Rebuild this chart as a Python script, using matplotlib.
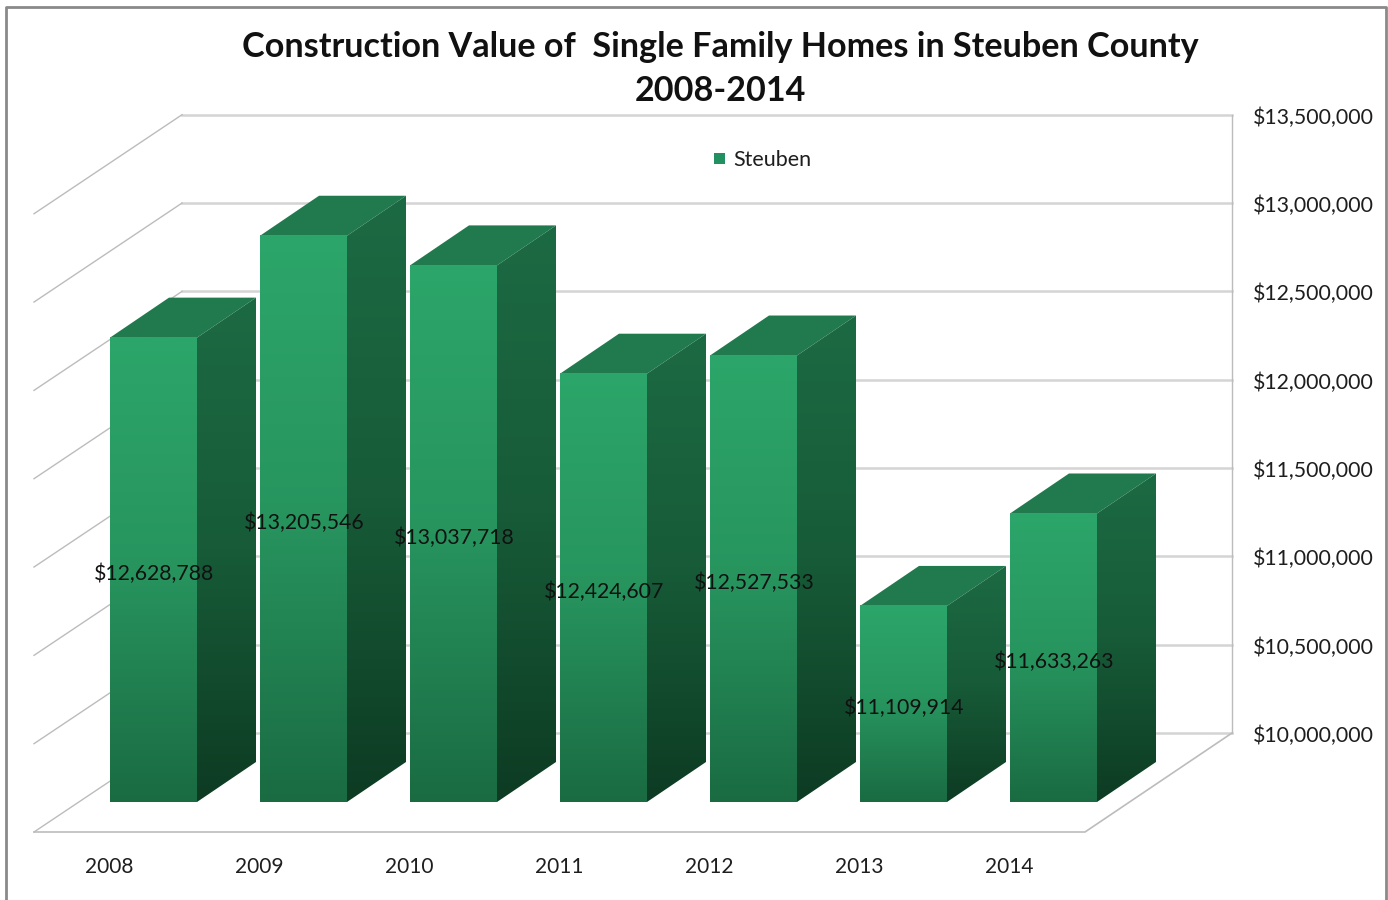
import matplotlib
matplotlib.use("Agg")
import matplotlib.pyplot as plt
import numpy as np
from matplotlib.colors import LinearSegmentedColormap
from matplotlib.patches import Polygon, Rectangle

plt.rcParams["font.family"] = ["Lato", "DejaVu Sans"]

years = ["2008", "2009", "2010", "2011", "2012", "2013", "2014"]
values = [12628788, 13205546, 13037718, 12424607, 12527533, 11109914, 11633263]
value_labels = ["$12,628,788", "$13,205,546", "$13,037,718", "$12,424,607",
                "$12,527,533", "$11,109,914", "$11,633,263"]
axis_ticks = [10000000, 10500000, 11000000, 11500000, 12000000, 12500000, 13000000, 13500000]
title_lines = ["Construction Value of  Single Family Homes in Steuben County", "2008-2014"]

W, H = 1388, 900
# scale of the picture: pixels per category and dollars per pixel
PX_X = 150.0
PX_Y = 5661.0
BASE = 10000000
ORIGIN_X = 153.5
ORIGIN_Y = 802

fig = plt.figure(figsize=(W / 100, H / 100), dpi=100)
ax = fig.add_axes([0, 0, 1, 1])
ax.axis("off")


def dx(px):
    return px / PX_X


def dy(px):
    return px * PX_Y


BAR_W = 0.58
BAR_DX, BAR_DY = dx(59), dy(40)
# floor corners relative to the bar front plane
FRONT_L, FRONT_R = dx(34 - ORIGIN_X), dx(1085 - ORIGIN_X)
BACK_L, BACK_R = dx(182 - ORIGIN_X), dx(1232 - ORIGIN_X)
FRONT_Y = BASE - dy(30)
BACK_Y = BASE + dy(69)

grid_col = "#d4d4d4"
edge_col = "#bcbcbc"
text_col = "#1e1e1e"

for t in axis_ticks:
    y = BACK_Y + (t - BASE)
    ax.plot([BACK_L, BACK_R], [y, y], color=grid_col, lw=1.8, zorder=1)
    ax.plot([FRONT_L, BACK_L], [y - dy(99), y], color=edge_col, lw=1.0, zorder=1)
    ax.text(BACK_R + dx(21), y - dy(3), "${:,}".format(t), ha="left", va="center",
            fontsize=15.3, color=text_col)

ax.plot([BACK_R, BACK_R], [BACK_Y, BACK_Y + axis_ticks[-1] - BASE], color=edge_col, lw=1.0, zorder=1)
ax.plot([FRONT_L, FRONT_R, BACK_R], [FRONT_Y, FRONT_Y, BACK_Y], color=edge_col, lw=1.2, zorder=1)

front_cmap = LinearSegmentedColormap.from_list("front", ["#2ca66a", "#27945e", "#1a6b42"])
side_cmap = LinearSegmentedColormap.from_list("side", ["#1c6a43", "#175b38", "#0d3b23"])

for i, v in enumerate(values):
    l, r = i - BAR_W / 2, i + BAR_W / 2
    top = Polygon([(l, v), (r, v), (r + BAR_DX, v + BAR_DY), (l + BAR_DX, v + BAR_DY)],
                  facecolor="#217a4d", edgecolor="none", zorder=3)
    ax.add_patch(top)

    grad = np.linspace(0, 1, 256).reshape(-1, 1)
    ax.imshow(grad, cmap=front_cmap, extent=(l, r, BASE, v), aspect="auto", origin="upper", zorder=3)

    side = Polygon([(r, BASE), (r + BAR_DX, BASE + BAR_DY), (r + BAR_DX, v + BAR_DY), (r, v)],
                   facecolor="none", edgecolor="none")
    ax.add_patch(side)
    im2 = ax.imshow(grad, cmap=side_cmap, extent=(r, r + BAR_DX, BASE, v + BAR_DY), aspect="auto",
                    origin="upper", zorder=3)
    im2.set_clip_path(side)

for i, v in enumerate(values):
    ax.text(i + dx(1), (BASE + v) / 2 - dy(4), value_labels[i], ha="center", va="center", fontsize=15.3,
            color="#111111", zorder=5)
    ax.text(i + dx(-44.5), BASE - dy(65), years[i], ha="center", va="center", fontsize=15,
            color=text_col, zorder=5)

# imshow resets the limits so they are set here, last
ax.set_xlim(-ORIGIN_X / PX_X, (W - ORIGIN_X) / PX_X)
ax.set_ylim(BASE - (H - ORIGIN_Y) * PX_Y, BASE + ORIGIN_Y * PX_Y)

fig.text(720.5 / W, 1 - 47 / H, title_lines[0], ha="center", va="center", fontsize=24.6, fontweight="bold",
         color="#111111")
fig.text(720.5 / W, 1 - 91 / H, title_lines[1], ha="center", va="center", fontsize=24.6, fontweight="bold",
         color="#111111")

fig.patches.append(Rectangle((714 / W, 1 - 164 / H), 11 / W, 11 / H, transform=fig.transFigure,
                             facecolor="#229060", edgecolor="none"))
fig.text(733 / W, 1 - 160 / H, "Steuben", ha="left", va="center", fontsize=15.5, color=text_col)

# chart frame, open at the bottom
fig.add_artist(plt.Line2D([6 / W, 6 / W, 1386 / W, 1386 / W], [0, 1 - 7 / H, 1 - 7 / H, 0],
                          color="#8a8a8a", lw=2, transform=fig.transFigure))

fig.savefig("out.png", dpi=100)
